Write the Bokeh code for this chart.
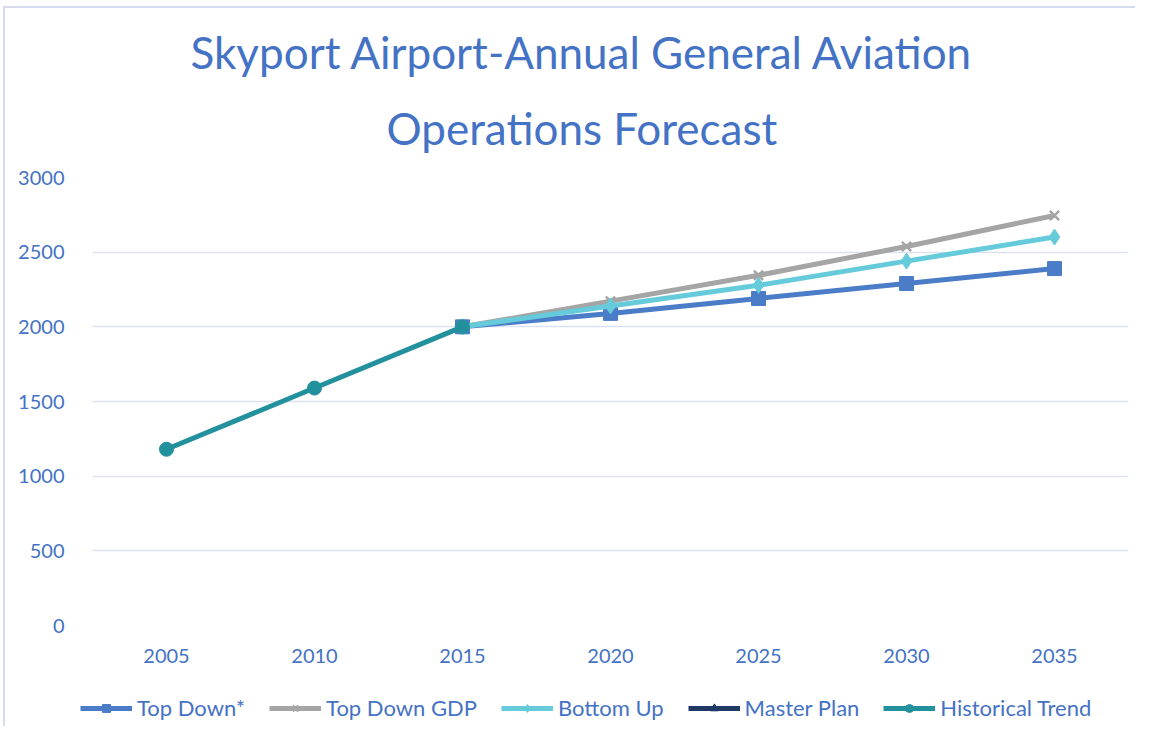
from bokeh.plotting import figure
from bokeh.models import Range1d, FixedTicker, Title, Legend
from bokeh.layouts import column, row
from bokeh.embed import file_html
from bokeh.resources import INLINE

nan = float("nan")
years_hist = [2005, 2010, 2015]
hist_trend = [1180, 1590, 2000]
years_fc = [2015, 2020, 2025, 2030, 2035]
top_down = [2000, 2090, 2190, 2290, 2390]
top_down_gdp = [2000, 2172, 2345, 2538, 2746]
bottom_up = [2000, 2140, 2278, 2440, 2601]
master_plan = [nan, nan, nan, nan, nan]  # series has no plotted values
x_ticks = [2005, 2010, 2015, 2020, 2025, 2030, 2035]
y_ticks = [0, 500, 1000, 1500, 2000, 2500, 3000]
names = ["Top Down*", "Top Down GDP", "Bottom Up", "Master Plan", "Historical Trend"]
title_line1 = "Skyport Airport-Annual General Aviation"
title_line2 = "Operations Forecast"

TXT = "#4472C4"
FONT = "Lato"
colors = ["#4A7CC7", "#A5A5A5", "#65CBDB", "#1F3864", "#23919D"]
markers = ["square", "x", "diamond", "triangle", "circle"]
msizes = [14, 13, 16, 13, 14]
series = [(years_fc, top_down), (years_fc, top_down_gdp), (years_fc, bottom_up),
          (years_fc, master_plan), (years_hist, hist_trend)]

p = figure(width=1130, height=672, output_backend="svg", toolbar_location=None,
           x_range=Range1d(2002.5, 2037.5), y_range=Range1d(0, 3000),
           min_border_left=87, min_border_right=7, min_border_bottom=55, min_border_top=10)
p.outline_line_color = None
p.background_fill_color = "white"
p.border_fill_color = "white"

p.xaxis.ticker = FixedTicker(ticks=x_ticks)
p.yaxis.ticker = FixedTicker(ticks=y_ticks)
for ax in (p.xaxis[0], p.yaxis[0]):
    ax.axis_line_color = None
    ax.major_tick_line_color = None
    ax.minor_tick_line_color = None
    ax.major_label_text_color = TXT
    ax.major_label_text_font = FONT
    ax.major_label_text_font_size = "20px"
p.xaxis.major_label_standoff = 17
p.yaxis.major_label_standoff = 22
p.xgrid.grid_line_color = None
p.ygrid.grid_line_color = "#D9E1F2"
p.ygrid.grid_line_width = 1.5


def draw(fig, xs, ys, color, marker, size):
    r = fig.line(xs, ys, line_color=color, line_width=5)
    if marker == "x":
        m = fig.scatter(xs, ys, marker=marker, size=size, line_color=color, line_width=2.5)
    else:
        m = fig.scatter(xs, ys, marker=marker, size=size, fill_color=color, line_color=color)
    return [r, m]


for (xs, ys), c, mk, sz in zip(series, colors, markers, msizes):
    draw(p, xs, ys, c, mk, sz)

p.add_layout(Title(text=title_line2, align="left", offset=294, text_font=FONT,
                   text_font_size="44px", text_font_style="normal", text_color=TXT,
                   standoff=47), "above")
p.add_layout(Title(text=title_line1, align="left", offset=98, text_font=FONT,
                   text_font_size="44px", text_font_style="normal", text_color=TXT,
                   standoff=-2), "above")
p.add_layout(Title(text=" ", align="left", text_font=FONT, text_font_size="10px",
                   standoff=2), "above")

# legend strip below the chart
lg = figure(width=1130, height=46, output_backend="svg", toolbar_location=None,
            x_range=Range1d(0, 1), y_range=Range1d(0, 1),
            x_axis_type=None, y_axis_type=None, min_border=0)
lg.outline_line_color = None
lg.grid.visible = False
items = []
for (xs, ys), c, mk, sz, nm in zip(series, colors, markers, msizes, names):
    items.append((nm, draw(lg, xs, ys, c, mk, sz - 2)))
legend = Legend(items=items, orientation="horizontal", location=(75, 5),
                label_text_color=TXT, label_text_font=FONT, label_text_font_size="22px",
                glyph_width=52, label_standoff=5, spacing=24,
                border_line_color=None, background_fill_alpha=0, margin=0, padding=4)
lg.add_layout(legend, "center")

layout = column(p, row(lg), spacing=0,
                styles={"margin-left": "3px", "margin-top": "6px",
                        "border-left": "2px solid #D6DCF0", "border-top": "2px solid #D6DCF0"})
open("out.html", "w").write(file_html(layout, INLINE))
